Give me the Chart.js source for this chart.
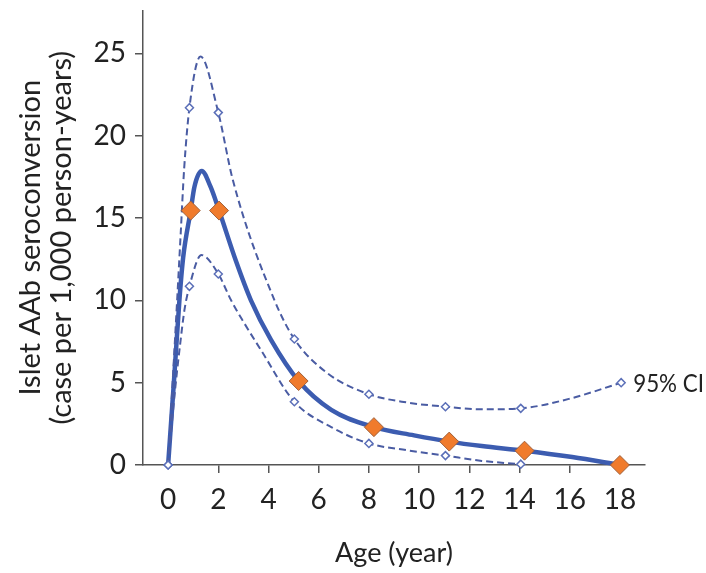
<!DOCTYPE html>
<html>
<head>
<meta charset="utf-8">
<script src="https://cdn.jsdelivr.net/npm/chart.js@4.4.1/dist/chart.umd.min.js"></script>
<style>
  html, body { margin: 0; padding: 0; background: #ffffff; }
  #wrap { width: 706px; height: 573px; }
</style>
</head>
<body>
<div id="wrap"><canvas id="c" width="706" height="573"></canvas></div>
<script>
// Axis ticks
const ageTicks = [0, 2, 4, 6, 8, 10, 12, 14, 16, 18];
const rateTicks = [0, 5, 10, 15, 20, 25];

// Modelled seroconversion rate (cases per 1,000 person-years) by age
const curveAge  = [0, 0.23, 0.45, 0.6, 0.9, 1.05, 1.34, 1.69, 2.03, 2.7, 3.3, 4.1, 5.2, 6.5, 8.2, 9.8, 11.2, 12.5, 14.2, 16.1, 18];
const curveRate = [0, 5.0, 10.0, 12.6, 15.45, 16.9, 17.85, 16.9, 15.45, 12.4, 10.0, 7.6, 5.1, 3.35, 2.3, 1.8, 1.42, 1.15, 0.87, 0.48, 0];

// Observed rates by age group
const obsAge  = [0.9, 2.03, 5.2, 8.2, 11.2, 14.2, 18];
const obsRate = [15.45, 15.45, 5.1, 2.3, 1.42, 0.87, 0];

// Upper 95% confidence bound
const upperAge  = [0, 0.18, 0.36, 0.5, 0.64, 0.85, 1.29, 2.0, 2.58, 4.24, 5.03, 6.36, 8.0, 9.5, 11.05, 12.5, 14.05, 16.06, 18.05];
const upperRate = [0, 5.0, 10.0, 14.0, 18.0, 21.7, 24.8, 21.4, 17.3, 10.0, 7.65, 5.56, 4.3, 3.8, 3.54, 3.38, 3.44, 4.05, 5.0];
const upperMarkAge  = [0, 0.85, 2.0, 5.03, 8.0, 11.05, 14.05, 18.05];
const upperMarkRate = [0, 21.7, 21.4, 7.65, 4.3, 3.54, 3.44, 5.0];

// Lower 95% confidence bound
const lowerAge  = [0, 0.28, 0.5, 0.65, 0.85, 1.33, 2.0, 2.51, 3.0, 3.7, 5.03, 6.5, 8.0, 9.5, 11.05, 12.5, 14.05];
const lowerRate = [0, 4.6, 7.6, 9.4, 10.85, 12.75, 11.6, 10.0, 8.7, 6.98, 3.84, 2.3, 1.31, 0.9, 0.57, 0.25, 0.05];
const lowerMarkAge  = [0, 0.85, 2.0, 5.03, 8.0, 11.05, 14.05];
const lowerMarkRate = [0, 10.85, 11.6, 3.84, 1.31, 0.57, 0.05];

const ciLabel = '95% CI';

const pts = (xs, ys) => xs.map((x, i) => ({ x: x, y: ys[i] }));

const FONT = 'Lato, "Open Sans", sans-serif';
const TEXT = '#222222';
const AXIS = '#555555';
const BLUE = '#3c5cb0';
const CI_BLUE = '#4a5ca3';
const ORANGE = '#f07b2c';

// Labels the upper confidence curve at its last point, squeezed to fit the canvas edge
const ciLabelPlugin = {
  id: 'ciLabel',
  afterDatasetsDraw(chart) {
    const { ctx, scales, width } = chart;
    const n = upperMarkAge.length - 1;
    const px = scales.x.getPixelForValue(upperMarkAge[n]) + 12;
    const py = scales.y.getPixelForValue(upperMarkRate[n]) + 1;
    ctx.save();
    ctx.font = '25px ' + FONT;
    ctx.fillStyle = TEXT;
    ctx.textAlign = 'left';
    ctx.textBaseline = 'middle';
    const w = ctx.measureText(ciLabel).width;
    const room = width - px - 2;
    const sx = w > room ? room / w : 1;
    ctx.translate(px, py);
    ctx.scale(sx, 1);
    ctx.fillText(ciLabel, 0, 0);
    ctx.restore();
  }
};

new Chart(document.getElementById('c'), {
  type: 'line',
  data: {
    datasets: [
      {
        data: pts(obsAge, obsRate),
        showLine: false,
        pointStyle: 'rectRot',
        pointRadius: 9.5,
        pointBackgroundColor: ORANGE,
        pointBorderColor: '#a0603a',
        pointBorderWidth: 1,
        clip: false,
        order: 0
      },
      {
        data: pts(upperMarkAge, upperMarkRate),
        showLine: false,
        pointStyle: 'rectRot',
        pointRadius: 4,
        pointBackgroundColor: '#ffffff',
        pointBorderColor: '#5b6fb8',
        pointBorderWidth: 1.5,
        clip: false,
        order: 1
      },
      {
        data: pts(lowerMarkAge, lowerMarkRate),
        showLine: false,
        pointStyle: 'rectRot',
        pointRadius: 4,
        pointBackgroundColor: '#ffffff',
        pointBorderColor: '#5b6fb8',
        pointBorderWidth: 1.5,
        clip: false,
        order: 1
      },
      {
        data: pts(upperAge, upperRate),
        borderColor: CI_BLUE,
        borderWidth: 2,
        borderDash: [7, 4],
        pointRadius: 0,
        cubicInterpolationMode: 'monotone',
        fill: false,
        clip: false,
        order: 2
      },
      {
        data: pts(lowerAge, lowerRate),
        borderColor: CI_BLUE,
        borderWidth: 2,
        borderDash: [7, 4],
        pointRadius: 0,
        cubicInterpolationMode: 'monotone',
        fill: false,
        clip: false,
        order: 2
      },
      {
        data: pts(curveAge, curveRate),
        borderColor: BLUE,
        borderWidth: 4.5,
        pointRadius: 0,
        cubicInterpolationMode: 'monotone',
        fill: false,
        clip: false,
        order: 3
      }
    ]
  },
  options: {
    responsive: false,
    animation: false,
    events: [],
    layout: { padding: { left: 0, right: 61, top: 10, bottom: 0 } },
    plugins: { legend: { display: false }, tooltip: { enabled: false } },
    scales: {
      x: {
        type: 'linear',
        min: -1,
        max: 19,
        afterBuildTicks: (s) => { s.ticks = ageTicks.map(v => ({ value: v })); },
        afterFit: (s) => { s.height = 108; s.paddingLeft = 0; s.paddingRight = 0; },
        grid: {
          display: true,
          drawOnChartArea: false,
          drawTicks: true,
          tickLength: 8,
          lineWidth: 1.5,
          color: (c) => (c.tick && c.tick.value === 0 ? 'rgba(0,0,0,0)' : AXIS)
        },
        border: { display: true, color: AXIS, width: 1.5 },
        ticks: {
          autoSkip: false,
          maxRotation: 0,
          padding: 10,
          color: TEXT,
          font: { family: FONT, size: 28 },
          callback: (v) => String(v)
        },
        title: {
          display: true,
          text: 'Age (year)',
          color: TEXT,
          font: { family: FONT, size: 27, lineHeight: 1.1 },
          padding: { top: 0, bottom: 5 }
        }
      },
      y: {
        type: 'linear',
        min: 0,
        max: 27.6,
        afterBuildTicks: (s) => { s.ticks = rateTicks.map(v => ({ value: v })); },
        afterFit: (s) => { s.width = 143; s.paddingTop = 0; s.paddingBottom = 0; },
        grid: {
          display: true,
          drawOnChartArea: false,
          drawTicks: true,
          tickLength: 8,
          lineWidth: 1.5,
          color: AXIS
        },
        border: { display: true, color: AXIS, width: 1.5 },
        ticks: {
          padding: 9,
          color: TEXT,
          font: { family: FONT, size: 28 },
          callback: (v) => String(v)
        },
        title: {
          display: true,
          text: ['Islet AAb seroconversion', '(case per 1,000 person-years)'],
          color: TEXT,
          font: { family: FONT, size: 29, lineHeight: 1.04 },
          padding: { top: 16, bottom: 0 }
        }
      }
    }
  },
  plugins: [ciLabelPlugin]
});
</script>
</body>
</html>
